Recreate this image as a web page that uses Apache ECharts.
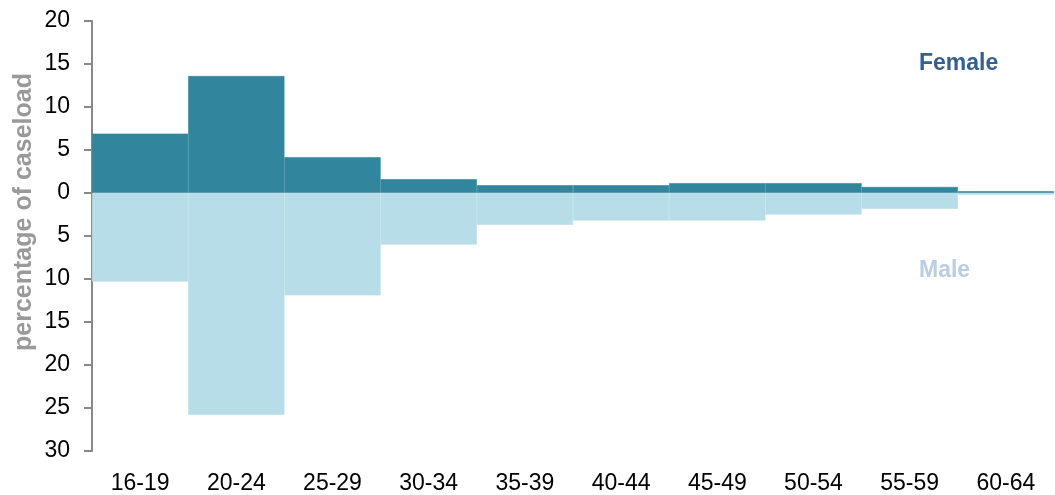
<!DOCTYPE html>
<html>
<head>
<meta charset="utf-8">
<script src="https://cdn.jsdelivr.net/npm/echarts@6/dist/echarts.min.js"></script>
<style>html,body{margin:0;padding:0;background:#fff;}#c{width:1055px;height:495px;}</style>
</head>
<body>
<div id="c"></div>
<script>
const categories = ['16-19','20-24','25-29','30-34','35-39','40-44','45-49','50-54','55-59','60-64'];
const female = [6.9, 13.6, 4.15, 1.6, 0.9, 0.9, 1.15, 1.15, 0.7, 0.2];
const male = [10.3, 25.8, 11.9, 6.0, 3.7, 3.2, 3.2, 2.5, 1.85, 0.2];
const yTicks = [20, 15, 10, 5, 0, 5, 10, 15, 20, 25, 30];

const chart = echarts.init(document.getElementById('c'), null, {renderer: 'canvas'});
const font = 'Liberation Sans, Arial, sans-serif';
chart.setOption({
  animation: false,
  grid: {left: 92, right: 1, top: 21, bottom: 40},
  xAxis: {
    type: 'category',
    data: categories,
    axisLine: {show: false},
    axisTick: {show: false},
    axisLabel: {fontFamily: font, fontSize: 23, color: '#000', margin: 21}
  },
  yAxis: {
    type: 'value',
    min: -30, max: 20, interval: 5,
    splitLine: {show: false},
    axisLine: {show: true, lineStyle: {color: '#888', width: 2}},
    axisTick: {show: true, length: 8, lineStyle: {color: '#888', width: 2}},
    axisLabel: {fontFamily: font, fontSize: 23, color: '#000', margin: 22,
      formatter: v => String(Math.abs(v))}
  },
  series: [
    {name: 'Female', type: 'bar', stack: 'g', data: female, barCategoryGap: 0,
     itemStyle: {color: '#31859C', borderColor: '#31859C', borderWidth: 0.6}},
    {name: 'Male', type: 'bar', stack: 'g', data: male.map(v => -v), barCategoryGap: 0,
     itemStyle: {color: '#B7DDE8', borderColor: '#B7DDE8', borderWidth: 0.6}}
  ],
  graphic: [
    {type: 'text', x: 24, y: 212, rotation: Math.PI / 2,
     style: {text: 'percentage of caseload', font: 'bold 25px ' + font, fill: '#999',
             textAlign: 'center', textVerticalAlign: 'middle'}},
    {type: 'text', x: 919, y: 64, style: {text: 'Female', font: 'bold 23px ' + font, fill: '#335F91', textVerticalAlign: 'middle'}},
    {type: 'text', x: 919, y: 271, style: {text: 'Male', font: 'bold 23px ' + font, fill: '#B9CDE5', textVerticalAlign: 'middle'}}
  ]
});
</script>
</body>
</html>
